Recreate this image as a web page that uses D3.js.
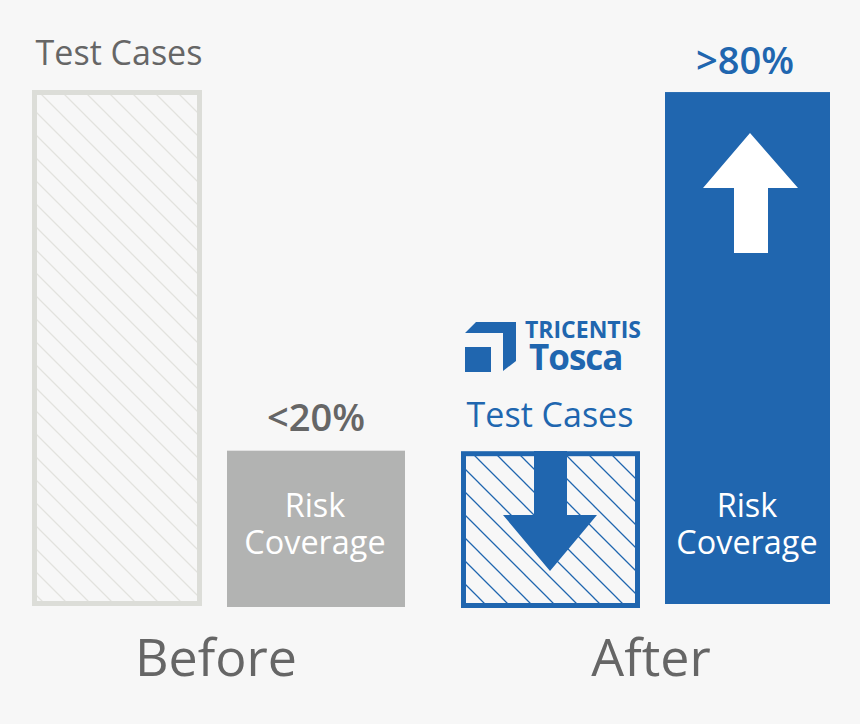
<!DOCTYPE html>
<html><head><meta charset="utf-8">
<script src="https://cdnjs.cloudflare.com/ajax/libs/d3/7.8.5/d3.min.js"></script>
<style>html,body{margin:0;padding:0;background:#f7f7f7}svg{display:block}text{font-family:"Open Sans",sans-serif}</style>
</head><body><svg id="c" width="860" height="724"></svg>
<script>
// data
const barNames = ["Test Cases (Before)", "Risk Coverage (Before)", "Test Cases (After)", "Risk Coverage (After)"];
const barValues = [100, 30.1, 30.0, 99.6];
const groupLabels = ["Before", "After"];
const percentLabels = ["<20%", ">80%"];

// layout
const W = 860, H = 724, blue = "#2066af", grey = "#666666";
const y = d3.scaleLinear().domain([0, 100]).range([606, 90]);
const x = d3.scaleLinear().domain([0, 860]).range([0, 860]);
const barBox = [[32, 202, 0], [227, 405, 1], [461, 640, 2], [665, 830, -2]];
const svg = d3.select("#c");
svg.append("rect").attr("width", W).attr("height", H).attr("fill", "#f7f7f7");

const defs = svg.append("defs");
function hatch(id, color, dx, sw) {
  const p = defs.append("pattern").attr("id", id).attr("patternUnits", "userSpaceOnUse")
    .attr("width", 23).attr("height", 23).attr("patternTransform", `translate(${dx},0)`);
  p.append("path").attr("d", "M-2,-2L25,25M-25,-2L2,25M21,-2L48,25")
    .attr("stroke", color).attr("stroke-width", sw).attr("fill", "none");
}
hatch("hGrey", "#e2e2de", -7, 1.3);
hatch("hBlue", blue, 19, 1.3);

const styles = [
  {fill: "url(#hGrey)", stroke: "#dcddd8", sw: 5},
  {fill: "#b2b3b2", stroke: "none", sw: 0},
  {fill: "url(#hBlue)", stroke: blue, sw: 5},
  {fill: blue, stroke: "none", sw: 0}
];
svg.selectAll("rect.bar").data(barValues).join("rect").attr("class", "bar")
  .attr("x", (d, i) => x(barBox[i][0]) + styles[i].sw / 2)
  .attr("width", (d, i) => x(barBox[i][1]) - x(barBox[i][0]) - styles[i].sw)
  .attr("y", (d, i) => y(d) + styles[i].sw / 2)
  .attr("height", (d, i) => y(0) + barBox[i][2] - y(d) - styles[i].sw)
  .attr("fill", (d, i) => styles[i].fill)
  .attr("stroke", (d, i) => styles[i].stroke)
  .attr("stroke-width", (d, i) => styles[i].sw);

// arrows
const line = d3.line();
const arrowDown = [[534,451],[567,451],[567,515],[597,515],[550,571],[503,515],[534,515]];
const arrowUp = [[750,133],[798,188],[768,188],[768,253],[734,253],[734,188],[703,188]];
svg.append("path").attr("d", line(arrowDown) + "Z").attr("fill", blue);
svg.append("path").attr("d", line(arrowUp) + "Z").attr("fill", "#fff");

// text
function t(s, px, py, size, fill, weight, anchor) {
  return svg.append("text").text(s).attr("x", px).attr("y", py).attr("font-size", size)
    .attr("fill", fill).attr("font-weight", weight || 400).attr("text-anchor", anchor || "middle");
}
t("Test Cases", 119, 65, 34, grey);
t("Test Cases", 550, 427, 34, blue);
t(percentLabels[0], 316, 431, 38, grey, 600);
t(percentLabels[1], 745, 74, 38, blue, 600);
t("Risk", 315, 517, 32.4, "#fff");
t("Coverage", 315, 554, 32.4, "#fff");
t("Risk", 747, 517, 32.4, "#fff");
t("Coverage", 747, 554, 32.4, "#fff");
t(groupLabels[0], 216, 676, 52, grey);
t(groupLabels[1], 651, 676, 52, grey);

// logo
svg.append("path").attr("d", line([[465,333],[476,322],[516,322],[516,361],[503,371],[503,333]]) + "Z").attr("fill", blue);
svg.append("path").attr("d", line([[465,347],[491,347],[491,372],[465,372]]) + "Z").attr("fill", blue);
t("TRICENTIS", 525, 338, 23, blue, 700, "start");
t("Tosca", 529, 370, 35, blue, 700, "start").attr("letter-spacing", -1);
</script></body></html>
